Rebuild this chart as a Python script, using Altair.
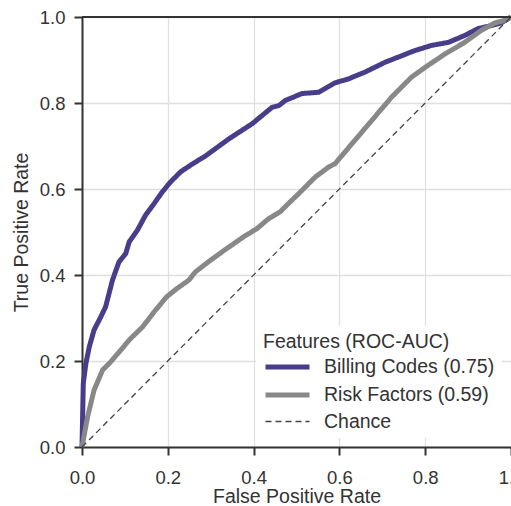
import altair as alt
import pandas as pd

# ---- data ----
billing_fpr = [0, 0.003, 0.009, 0.017, 0.028, 0.044, 0.055, 0.063, 0.071, 0.086, 0.102, 0.110, 0.129,
               0.148, 0.168, 0.187, 0.206, 0.230, 0.257, 0.288, 0.343, 0.397, 0.443, 0.459, 0.474,
               0.513, 0.552, 0.590, 0.621, 0.660, 0.707, 0.738, 0.776, 0.815, 0.854, 0.892, 0.923,
               0.954, 0.977, 1.0]
billing_tpr = [0, 0.148, 0.194, 0.233, 0.272, 0.303, 0.326, 0.357, 0.388, 0.430, 0.450, 0.477, 0.504,
               0.539, 0.566, 0.593, 0.616, 0.640, 0.658, 0.677, 0.717, 0.752, 0.790, 0.794, 0.806,
               0.822, 0.825, 0.847, 0.856, 0.872, 0.895, 0.907, 0.922, 0.934, 0.941, 0.957, 0.973,
               0.980, 0.986, 1.0]
risk_fpr = [0, 0.013, 0.028, 0.048, 0.067, 0.090, 0.113, 0.141, 0.168, 0.197, 0.222, 0.249, 0.264,
            0.299, 0.338, 0.377, 0.408, 0.435, 0.462, 0.485, 0.505, 0.544, 0.575, 0.590, 0.629,
            0.676, 0.722, 0.768, 0.800, 0.846, 0.892, 0.931, 0.962, 0.985, 1.0]
risk_tpr = [0, 0.070, 0.132, 0.179, 0.198, 0.225, 0.252, 0.279, 0.314, 0.349, 0.369, 0.388, 0.407,
            0.434, 0.462, 0.489, 0.508, 0.531, 0.547, 0.570, 0.589, 0.628, 0.651, 0.659, 0.705,
            0.760, 0.814, 0.860, 0.883, 0.914, 0.941, 0.969, 0.986, 0.992, 1.0]
chance_fpr = [0.0, 1.0]
chance_tpr = [0.0, 1.0]

series_names = ["Billing Codes (0.75)", "Risk Factors (0.59)", "Chance"]
series_colors = ["#483d8b", "#888888", "#444444"]
series_widths = [5, 5, 1.3]
series_dashes = [[1, 0], [1, 0], [6, 4]]
ticks = [0.0, 0.2, 0.4, 0.6, 0.8, 1.0]
top_edge = [1.0]

rows = []
for name, xs, ys in zip(series_names,
                        [billing_fpr, risk_fpr, chance_fpr],
                        [billing_tpr, risk_tpr, chance_tpr]):
    for i, (a, b) in enumerate(zip(xs, ys)):
        rows.append({"series": name, "fpr": a, "tpr": b, "idx": i})
df = pd.DataFrame(rows)

FONT = "Liberation Sans"
TXT = "#333333"

legend = alt.Legend(
    title="Features (ROC-AUC)", orient="none", legendX=174, legendY=309,
    fillColor="white", padding=7, symbolType="M-1,0H3", symbolSize=484,
    labelOffset=34, rowPadding=4, titlePadding=1, labelLimit=0, titleLimit=0,
    titleFontWeight="normal", titleFontSize=19.5, labelFontSize=19.5,
    titleColor=TXT, labelColor=TXT, titleFont=FONT, labelFont=FONT,
    symbolFillColor="transparent",
)

x_enc = alt.X("fpr:Q", scale=alt.Scale(domain=[0, 1], nice=False),
              axis=alt.Axis(title="False Positive Rate", values=ticks, format=".1f"))
y_enc = alt.Y("tpr:Q", scale=alt.Scale(domain=[0, 1], nice=False),
              axis=alt.Axis(title="True Positive Rate", values=ticks, format=".1f"))
color_enc = alt.Color("series:N", scale=alt.Scale(domain=series_names, range=series_colors),
                      legend=legend)
width_enc = alt.StrokeWidth("series:N",
                            scale=alt.Scale(type="ordinal", domain=series_names, range=series_widths),
                            legend=legend)
dash_enc = alt.StrokeDash("series:N", scale=alt.Scale(domain=series_names, range=series_dashes),
                          legend=legend)

base = alt.Chart(df).mark_line(interpolate="linear", strokeCap="butt").encode(
    x=x_enc, y=y_enc, color=color_enc, strokeWidth=width_enc, strokeDash=dash_enc,
    order=alt.Order("idx:Q"),
)

layers = [base.transform_filter(alt.datum.series == n) for n in series_names]

top = alt.Chart(pd.DataFrame({"tpr": top_edge})).mark_rule(color="#333333", strokeWidth=2).encode(
    y="tpr:Q"
)

chart = alt.layer(*layers, top).properties(
    width=429, height=430,
    padding={"left": 82, "top": 17, "right": 0, "bottom": 59},
    autosize=alt.AutoSizeParams(type="none"),
).configure_view(stroke=None).configure_axis(
    domainColor="#333333", domainWidth=2, tickColor="#333333", tickWidth=2, tickSize=8,
    labelFontSize=18.5, labelFont=FONT, labelColor=TXT,
    titleFontSize=19.5, titleFont=FONT, titleColor=TXT, titleFontWeight="normal",
    gridColor="#e0e0e0", gridWidth=1.3,
).configure_axisX(titlePadding=1, labelPadding=13, labelFlush=False
).configure_axisY(titlePadding=8, labelPadding=9)

chart.save("out.html", embed_options={"renderer": "svg", "actions": False})
